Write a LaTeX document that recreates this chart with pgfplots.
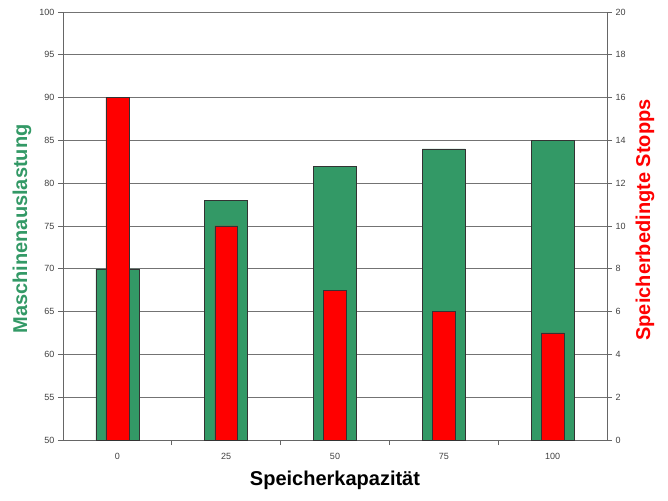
\documentclass[border=0pt]{standalone}
\usepackage{pgfplots}
\pgfplotsset{compat=1.18}
\usepackage{fontspec}
\setmainfont{Liberation Sans}
\definecolor{xlgreen}{RGB}{51,153,102}
\definecolor{xlred}{RGB}{255,0,0}
\begin{document}
\begin{tikzpicture}
\pgfplotsset{
  common/.style={
    width=544pt, height=428pt, scale only axis,
    xmin=-0.5, xmax=4.5,
    /pgf/number format/assume math mode=true,
    tick label style={font=\fontsize{9}{10}\selectfont, text=black!75},
    tick align=outside,
    ybar, bar shift=0pt,
  }
}
\begin{axis}[common, name=ax,
  ymin=50, ymax=100, ytick={50,55,...,100},
  xtick={0,1,2,3,4}, xticklabels={0,25,50,75,100},
  minor xtick={0.5,1.5,2.5,3.5},
  major x tick style={draw=none},
  minor x tick style={draw=black!60, line width=0.8pt},
  minor tick length=5pt, major tick length=5pt,
  ytick style={draw=black!60, line width=0.8pt},
  axis x line*=bottom, axis y line*=left,
  axis line style={draw=black!60, line width=0.8pt, -},
  ymajorgrids, major grid style={draw=black!55, line width=0.8pt},
  ylabel={Maschinenauslastung},
  ylabel style={at={(rel axis cs:0,0.493)}, anchor=center, yshift=41pt, font=\bfseries\fontsize{20}{24}\selectfont, text=xlgreen},
  xlabel={Speicherkapazität},
  xlabel style={at={(rel axis cs:0.5,0)}, anchor=center, yshift=-40pt, font=\bfseries\fontsize{20}{24}\selectfont, text=black},
  xticklabel style={yshift=-5pt},
]
\addplot[fill=xlgreen, draw=black!80, line width=0.5pt, bar width=0.395]
  coordinates {(0,70) (1,78) (2,82) (3,84) (4,85)};
\end{axis}
\begin{axis}[common,
  ymin=0, ymax=20, ytick={0,2,...,20},
  axis x line=none, axis y line*=right,
  axis line style={draw=black!60, line width=0.8pt, -},
  ytick style={draw=black!60, line width=0.8pt},
  major tick length=5pt,
  ylabel={Speicherbedingte Stopps},
  ylabel style={at={(rel axis cs:1,0.514)}, anchor=center, yshift=-38pt, font=\bfseries\fontsize{20}{24}\selectfont, text=xlred},
]
\addplot[fill=xlred, draw=black!80, line width=0.5pt, bar width=0.21]
  coordinates {(0,16) (1,10) (2,7) (3,6) (4,5)};
\end{axis}
\pgfresetboundingbox
\path ([xshift=-63pt,yshift=-60pt]ax.south west) rectangle ([xshift=61pt,yshift=12pt]ax.north east);
\end{tikzpicture}
\end{document}
